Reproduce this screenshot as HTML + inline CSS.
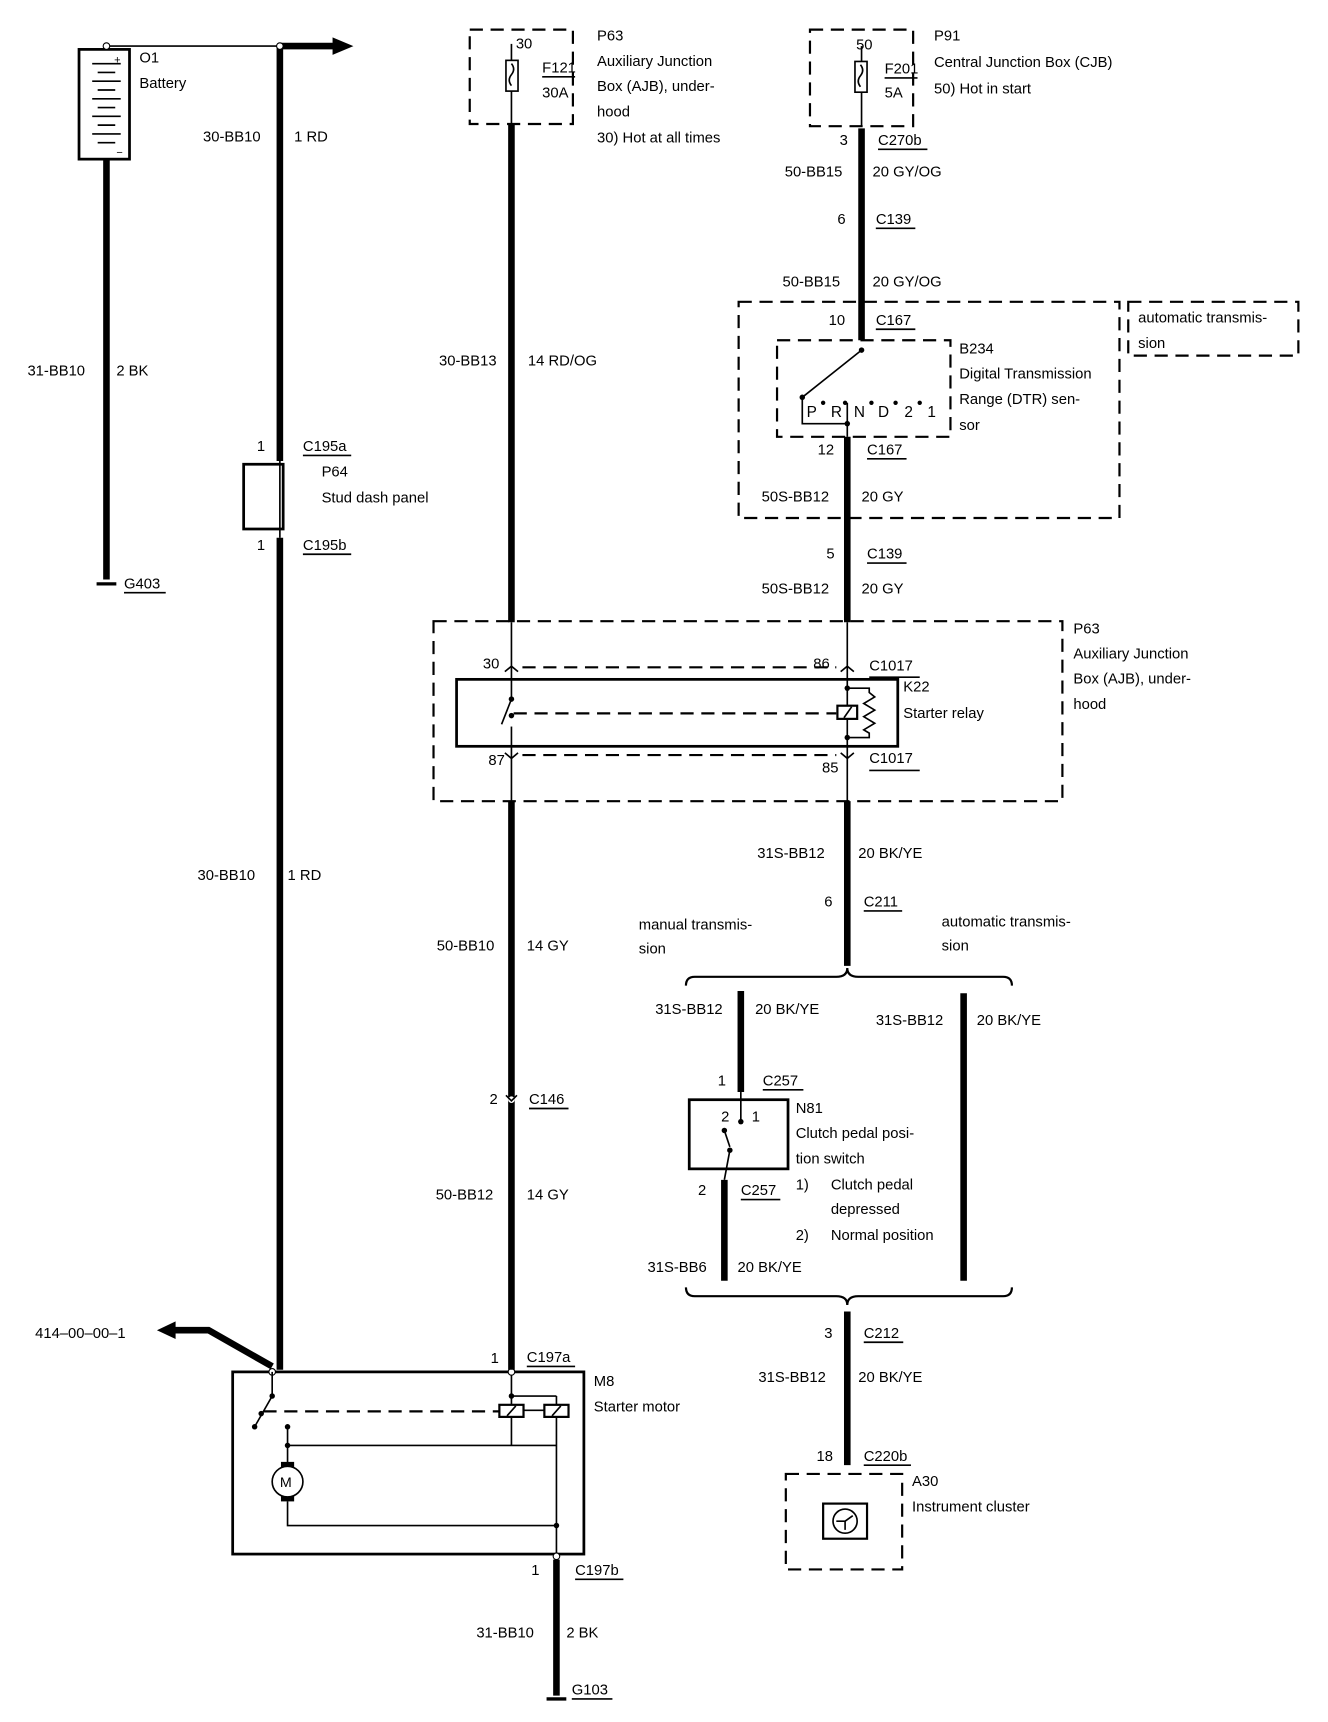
<!DOCTYPE html>
<html><head><meta charset="utf-8"><style>
html,body{margin:0;padding:0;background:#fff;}
svg{display:block;}
text{font-family:"Liberation Sans",Arial,sans-serif;font-size:13.5px;fill:#000;}
.t{stroke:#000;stroke-width:6;fill:none;}
.n{stroke:#000;stroke-width:1.5;fill:none;}
.d{stroke:#000;stroke-width:2;fill:none;stroke-dasharray:12,7;}
.b{stroke:#000;stroke-width:2.5;fill:none;}
</style></head><body>
<svg width="1328" height="1722" viewBox="0 0 1210 1569" preserveAspectRatio="none" xmlns="http://www.w3.org/2000/svg">
<rect x="72" y="45" width="46" height="100" class="b"/>
<g class="n"><line x1="84" y1="58" x2="110" y2="58"/><line x1="89" y1="66" x2="105" y2="66"/><line x1="84" y1="74" x2="110" y2="74"/><line x1="89" y1="82" x2="105" y2="82"/><line x1="84" y1="90" x2="110" y2="90"/><line x1="89" y1="98" x2="105" y2="98"/><line x1="84" y1="106" x2="110" y2="106"/><line x1="89" y1="114" x2="105" y2="114"/><line x1="84" y1="122" x2="110" y2="122"/><line x1="89" y1="130" x2="105" y2="130"/></g>
<text x="104" y="58" style="font-size:10px">+</text><text x="106" y="142" style="font-size:10px">−</text>
<line x1="97" y1="42" x2="255" y2="42" class="n"/>
<circle cx="97" cy="42" r="3" fill="#fff" stroke="#000"/>
<line x1="97" y1="145" x2="97" y2="528" class="t"/>
<line x1="88" y1="532" x2="106" y2="532" stroke="#000" stroke-width="3"/>
<text x="127" y="57">O1</text><text x="127" y="80">Battery</text>
<text x="25" y="342">31-BB10</text><text x="106" y="342">2 BK</text>
<text x="113" y="536">G403</text><line x1="113" y1="540" x2="151" y2="540" class="n"/>
<line x1="255" y1="42" x2="305" y2="42" class="t"/>
<polygon points="303,34 322,42 303,50" fill="#000"/>
<line x1="255" y1="42" x2="255" y2="420" class="t"/>
<circle cx="255" cy="42" r="3" fill="#fff" stroke="#000"/>
<rect x="222" y="423" width="36" height="59" class="b"/>
<line x1="255" y1="420" x2="255" y2="490" class="n"/>
<line x1="255" y1="490" x2="255" y2="1248" class="t"/>
<text x="185" y="129">30-BB10</text><text x="268" y="129">1 RD</text>
<text x="234" y="411">1</text><text x="276" y="411">C195a</text><line x1="276" y1="415" x2="320" y2="415" class="n"/>
<text x="293" y="434">P64</text><text x="293" y="458">Stud dash panel</text>
<text x="234" y="501">1</text><text x="276" y="501">C195b</text><line x1="276" y1="505" x2="320" y2="505" class="n"/>
<text x="180" y="802">30-BB10</text><text x="262" y="802">1 RD</text>
<polyline points="248,1245 190,1212 158,1212" stroke="#000" stroke-width="6" fill="none"/>
<polygon points="160,1204 143,1212 160,1220" fill="#000"/>
<text x="32" y="1219">414–00–00–1</text>
<rect x="212" y="1250" width="320" height="166" class="b"/>
<circle cx="248" cy="1250" r="3" fill="#fff" stroke="#000"/>
<line x1="248" y1="1250" x2="248" y2="1272" class="n"/>
<circle cx="248" cy="1272" r="2.5" fill="#000"/>
<line x1="248" y1="1272" x2="232" y2="1300" class="n"/><circle cx="232" cy="1300" r="2.5" fill="#000"/><circle cx="238" cy="1288" r="2.5" fill="#000"/>
<line x1="240" y1="1286" x2="455" y2="1286" class="d"/>
<line x1="466" y1="1250" x2="466" y2="1317" class="n"/>
<circle cx="466" cy="1250" r="3" fill="#fff" stroke="#000"/>
<circle cx="466" cy="1272" r="2.5" fill="#000"/>
<line x1="466" y1="1272" x2="507" y2="1272" class="n"/>
<line x1="507" y1="1272" x2="507" y2="1420" class="n"/>
<rect x="455" y="1280" width="22" height="11" fill="#fff" stroke="#000" stroke-width="2"/><line x1="462" y1="1290" x2="470" y2="1281" class="n"/>
<rect x="496" y="1280" width="22" height="11" fill="#fff" stroke="#000" stroke-width="2"/><line x1="503" y1="1290" x2="511" y2="1281" class="n"/>
<line x1="477" y1="1285" x2="496" y2="1285" class="n"/>
<line x1="262" y1="1317" x2="507" y2="1317" class="n"/>
<circle cx="262" cy="1300" r="2.5" fill="#000"/><circle cx="262" cy="1317" r="2.5" fill="#000"/>
<line x1="262" y1="1300" x2="262" y2="1335" class="n"/>
<rect x="256" y="1332" width="12" height="6" fill="#000"/><rect x="256" y="1362" width="12" height="6" fill="#000"/>
<circle cx="262" cy="1350" r="14" fill="#fff" stroke="#000" stroke-width="1.5"/>
<text x="255" y="1355" style="font-size:13px">M</text>
<polyline points="262,1368 262,1390 507,1390" class="n"/>
<circle cx="507" cy="1390" r="2.5" fill="#000"/>
<circle cx="507" cy="1418" r="3" fill="#fff" stroke="#000"/>
<line x1="507" y1="1421" x2="507" y2="1545" class="t"/>
<line x1="498" y1="1548" x2="516" y2="1548" stroke="#000" stroke-width="3"/>
<text x="541" y="1263">M8</text><text x="541" y="1286">Starter motor</text>
<text x="484" y="1435">1</text><text x="524" y="1435">C197b</text><line x1="524" y1="1439" x2="568" y2="1439" class="n"/>
<text x="434" y="1492">31-BB10</text><text x="516" y="1492">2 BK</text>
<text x="521" y="1544">G103</text><line x1="521" y1="1548" x2="558" y2="1548" class="n"/>
<rect x="428" y="27" width="94" height="86" class="d"/>
<line x1="466" y1="40" x2="466" y2="113" class="n"/>
<rect x="461" y="55" width="11" height="28" fill="#fff" stroke="#000" stroke-width="1.5"/>
<path d="M466,58 q4,5 0,10 q-4,5 0,10" class="n"/>
<text x="470" y="44">30</text><text x="494" y="66">F121</text><line x1="494" y1="70" x2="524" y2="70" class="n"/><text x="494" y="89">30A</text>
<text x="544" y="37">P63</text><text x="544" y="60">Auxiliary Junction</text><text x="544" y="83">Box (AJB), under-</text><text x="544" y="106">hood</text><text x="544" y="130">30)   Hot at all times</text>
<line x1="466" y1="113" x2="466" y2="567" class="t"/>
<text x="400" y="333">30-BB13</text><text x="481" y="333">14 RD/OG</text>
<rect x="395" y="566" width="573" height="164" class="d"/>
<rect x="416" y="619" width="402" height="61" class="b"/>
<line x1="466" y1="567" x2="466" y2="730" class="n"/>
<path d="M460,612 l6,-5 l6,5" class="n"/><path d="M460,686 l6,5 l6,-5" class="n"/>
<line x1="476" y1="608" x2="762" y2="608" class="d"/>
<line x1="476" y1="688" x2="762" y2="688" class="d"/>
<rect x="458" y="638" width="16" height="24" fill="#fff"/>
<circle cx="466" cy="637" r="2.5" fill="#000"/><circle cx="466" cy="652" r="2.5" fill="#000"/>
<line x1="466" y1="637" x2="457" y2="660" class="n"/>
<line x1="468" y1="650" x2="762" y2="650" class="d"/>
<line x1="772" y1="567" x2="772" y2="730" class="n"/>
<path d="M766,612 l6,-5 l6,5" class="n"/><path d="M766,686 l6,5 l6,-5" class="n"/>
<rect x="763" y="643" width="18" height="12" fill="#fff" stroke="#000" stroke-width="2"/><line x1="769" y1="654" x2="776" y2="644" class="n"/>
<circle cx="772" cy="627" r="2.5" fill="#000"/><circle cx="772" cy="672" r="2.5" fill="#000"/>
<polyline points="772,627 792,627 792,631 797,635 787,641 797,647 787,653 797,659 787,665 792,668 792,672 772,672" class="n"/>
<text x="440" y="609">30</text><text x="741" y="609">86</text><text x="792" y="611">C1017</text><line x1="792" y1="617" x2="838" y2="617" class="n"/>
<text x="823" y="630">K22</text><text x="823" y="654">Starter relay</text>
<text x="445" y="697">87</text><text x="749" y="704">85</text><text x="792" y="695">C1017</text><line x1="792" y1="702" x2="838" y2="702" class="n"/>
<text x="978" y="577">P63</text><text x="978" y="600">Auxiliary Junction</text><text x="978" y="623">Box (AJB), under-</text><text x="978" y="646">hood</text>
<line x1="466" y1="730" x2="466" y2="1248" class="t"/>
<circle cx="466" cy="1002" r="3" fill="#fff" stroke="none"/><path d="M461,998 l5,5 l5,-5" class="n"/>
<text x="398" y="866">50-BB10</text><text x="480" y="866">14 GY</text>
<text x="446" y="1006">2</text><text x="482" y="1006">C146</text><line x1="482" y1="1010" x2="518" y2="1010" class="n"/>
<text x="397" y="1093">50-BB12</text><text x="480" y="1093">14 GY</text>
<text x="447" y="1242">1</text><text x="480" y="1241">C197a</text><line x1="480" y1="1245" x2="524" y2="1245" class="n"/>
<rect x="738" y="27" width="94" height="88" class="d"/>
<line x1="785" y1="42" x2="785" y2="115" class="n"/>
<rect x="779" y="56" width="11" height="28" fill="#fff" stroke="#000" stroke-width="1.5"/>
<path d="M784,59 q4,5 0,10 q-4,5 0,10" class="n"/>
<text x="780" y="45">50</text><text x="806" y="67">F201</text><line x1="806" y1="71" x2="836" y2="71" class="n"/><text x="806" y="89">5A</text>
<text x="851" y="37">P91</text><text x="851" y="61">Central Junction Box (CJB)</text><text x="851" y="85">50)   Hot in start</text>
<line x1="785" y1="117" x2="785" y2="310" class="t"/>
<text x="765" y="132">3</text><text x="800" y="132">C270b</text><line x1="800" y1="136" x2="845" y2="136" class="n"/>
<text x="715" y="161">50-BB15</text><text x="795" y="161">20 GY/OG</text>
<text x="763" y="204">6</text><text x="798" y="204">C139</text><line x1="798" y1="208" x2="834" y2="208" class="n"/>
<text x="713" y="261">50-BB15</text><text x="795" y="261">20 GY/OG</text>
<rect x="673" y="275" width="347" height="197" class="d"/>
<rect x="1028" y="275" width="155" height="49" class="d"/>
<text x="1037" y="294">automatic transmis-</text><text x="1037" y="317">sion</text>
<text x="755" y="296">10</text><text x="798" y="296">C167</text><line x1="798" y1="300" x2="834" y2="300" class="n"/>
<rect x="708" y="310" width="158" height="88" class="d"/>
<circle cx="785" cy="319" r="2.5" fill="#000"/>
<line x1="785" y1="319" x2="731" y2="362" class="n"/>
<circle cx="731" cy="362" r="2.5" fill="#000"/>
<text x="735" y="380" style="font-size:14px">P</text><circle cx="750" cy="367" r="2" fill="#000"/>
<text x="757" y="380" style="font-size:14px">R</text><circle cx="770" cy="367" r="2" fill="#000"/>
<text x="778" y="380" style="font-size:14px">N</text><circle cx="794" cy="367" r="2" fill="#000"/>
<text x="800" y="380" style="font-size:14px">D</text><circle cx="816" cy="367" r="2" fill="#000"/>
<text x="824" y="380" style="font-size:14px">2</text><circle cx="838" cy="367" r="2" fill="#000"/>
<text x="845" y="380" style="font-size:14px">1</text>
<polyline points="731,362 731,386 772,386" class="n"/><line x1="772" y1="367" x2="772" y2="398" class="n"/>
<circle cx="772" cy="386" r="2.5" fill="#000"/>
<text x="874" y="322">B234</text><text x="874" y="345">Digital Transmission</text><text x="874" y="368">Range (DTR) sen-</text><text x="874" y="392">sor</text>
<line x1="772" y1="398" x2="772" y2="567" class="t"/>
<text x="745" y="414">12</text><text x="790" y="414">C167</text><line x1="790" y1="418" x2="826" y2="418" class="n"/>
<text x="694" y="457">50S-BB12</text><text x="785" y="457">20 GY</text>
<text x="753" y="509">5</text><text x="790" y="509">C139</text><line x1="790" y1="513" x2="826" y2="513" class="n"/>
<text x="694" y="541">50S-BB12</text><text x="785" y="541">20 GY</text>
<line x1="772" y1="730" x2="772" y2="880" class="t"/>
<text x="690" y="782">31S-BB12</text><text x="782" y="782">20 BK/YE</text>
<text x="751" y="826">6</text><text x="787" y="826">C211</text><line x1="787" y1="830" x2="822" y2="830" class="n"/>
<text x="582" y="847">manual transmis-</text><text x="582" y="869">sion</text>
<text x="858" y="844">automatic transmis-</text><text x="858" y="866">sion</text>
<path d="M625,898 q0,-8 8,-8 L762,890 q10,0 10,-8 q0,8 10,8 L914,890 q8,0 8,8" stroke="#000" stroke-width="2" fill="none"/>
<line x1="675" y1="903" x2="675" y2="995" class="t"/>
<line x1="878" y1="905" x2="878" y2="1167" class="t"/>
<text x="597" y="924">31S-BB12</text><text x="688" y="924">20 BK/YE</text>
<text x="798" y="934">31S-BB12</text><text x="890" y="934">20 BK/YE</text>
<text x="654" y="989">1</text><text x="695" y="989">C257</text><line x1="695" y1="993" x2="732" y2="993" class="n"/>
<rect x="628" y="1002" width="90" height="63" class="b"/>
<line x1="675" y1="995" x2="675" y2="1022" class="n"/><circle cx="675" cy="1022" r="2.5" fill="#000"/>
<circle cx="660" cy="1030" r="2.5" fill="#000"/><line x1="660" y1="1030" x2="665" y2="1045" class="n"/>
<circle cx="665" cy="1048" r="2.5" fill="#000"/><line x1="665" y1="1048" x2="660" y2="1075" class="n"/>
<text x="657" y="1022">2</text><text x="685" y="1022">1</text>
<line x1="660" y1="1075" x2="660" y2="1167" class="t"/>
<text x="725" y="1014">N81</text><text x="725" y="1037">Clutch pedal posi-</text><text x="725" y="1060">tion switch</text>
<text x="725" y="1084">1)</text><text x="757" y="1084">Clutch pedal</text><text x="757" y="1106">depressed</text>
<text x="725" y="1130">2)</text><text x="757" y="1130">Normal position</text>
<text x="636" y="1089">2</text><text x="675" y="1089">C257</text><line x1="675" y1="1093" x2="711" y2="1093" class="n"/>
<text x="590" y="1159">31S-BB6</text><text x="672" y="1159">20 BK/YE</text>
<path d="M625,1173 q0,8 8,8 L762,1181 q10,0 10,8 q0,-8 10,-8 L914,1181 q8,0 8,-8" stroke="#000" stroke-width="2" fill="none"/>
<line x1="772" y1="1195" x2="772" y2="1335" class="t"/>
<text x="751" y="1219">3</text><text x="787" y="1219">C212</text><line x1="787" y1="1223" x2="823" y2="1223" class="n"/>
<text x="691" y="1259">31S-BB12</text><text x="782" y="1259">20 BK/YE</text>
<text x="744" y="1331">18</text><text x="787" y="1331">C220b</text><line x1="787" y1="1335" x2="830" y2="1335" class="n"/>
<rect x="716" y="1343" width="106" height="87" class="d"/>
<rect x="750" y="1370" width="40" height="32" fill="#fff" stroke="#000" stroke-width="2"/>
<circle cx="770" cy="1386" r="11" fill="none" stroke="#000" stroke-width="1.5"/>
<path d="M762,1386 L770,1386 L770,1394 M770,1386 L777,1381" class="n"/>
<text x="831" y="1354">A30</text><text x="831" y="1377">Instrument cluster</text>
</svg>
</body></html>
